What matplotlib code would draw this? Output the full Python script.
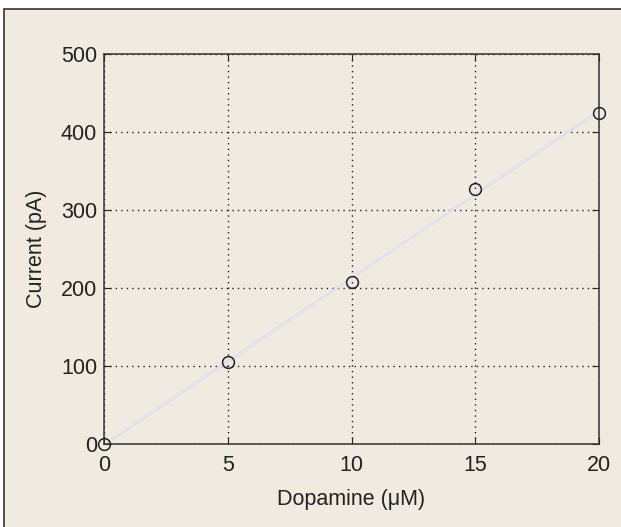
import matplotlib.pyplot as plt
import numpy as np
from matplotlib.patches import Rectangle

# measured points
dopamine = np.array([0, 5, 10, 15, 20])
current = np.array([0, 105, 208, 327, 424])

x_ticks = [0, 5, 10, 15, 20]
y_ticks = [0, 100, 200, 300, 400, 500]

bg = '#f0eae0'
plt.rcParams['font.family'] = ['Liberation Sans', 'DejaVu Sans']

fig = plt.figure(figsize=(6.21, 5.27), dpi=100)
fig.patch.set_facecolor('white')

# panel background with frame (cut off on the right/bottom)
frame = Rectangle((4 / 621, -0.05), 1.2, 1 - 9 / 527 + 0.05,
                  transform=fig.transFigure, facecolor=bg,
                  edgecolor='#333333', lw=1.2, zorder=-10)
fig.patches.append(frame)

ax = fig.add_axes([104 / 621, 83 / 527, 495 / 621, 390 / 527])
ax.set_facecolor(bg)
ax.set_axisbelow(True)

# least squares line
p = np.polyfit(dopamine, current, 1)
xf = np.array([dopamine[0], dopamine[-1]])
ax.plot(xf, np.polyval(p, xf), color='#dde3ec', lw=2, zorder=2)
ax.plot(dopamine, current, 'o', mfc='none', mec='#222222', ms=8.5,
        mew=1.1, zorder=3, clip_on=False)

ax.set_xlim(0, 20)
ax.set_ylim(0, 500)
ax.set_xticks(x_ticks)
ax.set_yticks(y_ticks)
ax.grid(True, color='#222222', ls=(0, (1, 3)), lw=1)
ax.tick_params(direction='in', top=True, right=True, length=5,
               labelsize=15.5, colors='#222222')
ax.tick_params(axis='y', pad=5)
ax.tick_params(axis='x', pad=8)
for s in ax.spines.values():
    s.set_color('#333333')
    s.set_linewidth(1.1)

ax.set_xlabel('Dopamine (\u03bcM)', fontsize=15.5, color='#222222', labelpad=9)
ax.set_ylabel('Current (pA)', fontsize=15.5, color='#222222', labelpad=10)

fig.savefig('out.png', dpi=100, facecolor=fig.get_facecolor())
